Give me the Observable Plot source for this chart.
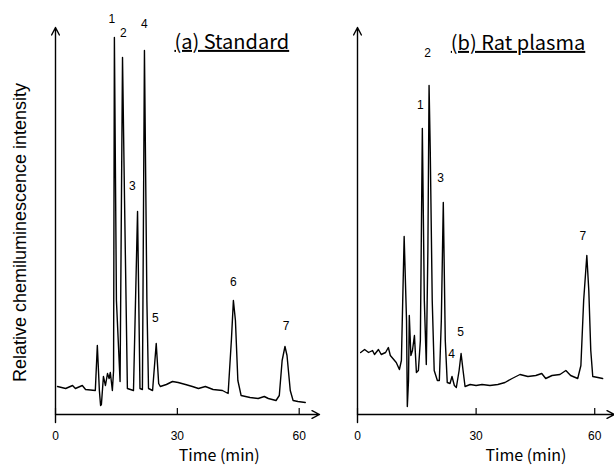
<!DOCTYPE html>
<html><head><meta charset="utf-8">
<script src="https://cdn.jsdelivr.net/npm/d3@7"></script>
<script src="https://cdn.jsdelivr.net/npm/@observablehq/plot@0.6"></script>
<style>
body{margin:0;background:#fff;}
#wrap{position:relative;width:614px;height:470px;overflow:hidden;background:#fff;}
#wrap svg{position:absolute;top:0;}
</style></head><body><div id="wrap"></div>
<script>
// Panel (a) Standard: retention time (min) and relative chemiluminescence signal
const timeA = [0.5,2.5,4.2,4.9,6.6,7.4,9.8,10.3,10.8,11.1,11.3,11.8,12.3,12.8,13.2,13.5,14.0,14.3,14.5,15.0,15.9,16.5,17.0,17.7,19.2,20.2,20.8,21.4,21.9,22.5,22.9,23.9,24.8,25.4,25.8,27.3,28.8,30.2,32.0,33.7,35.2,36.9,38.8,41.1,42.5,43.3,43.8,44.3,44.9,45.7,47.9,49.9,51.4,52.4,54.3,55.1,55.8,56.5,57.0,57.8,58.5,59.7,61.5];
const signalA = [28,26,29,26,29,25,24,69,24,9,10,38,29,41,36,42,24,44,377,114,33,357,214,26,24,203,26,25,364,114,26,24,71,31,28,30,33,32,30,28,26,28,25,24,21,74,114,94,34,19,17,16,18,16,14,19,54,68,59,24,14,13,12];
const peakNamesA = ["1","2","3","4","5","6","7"];
const peakTimeA = [13.9,16.7,18.9,21.9,24.6,43.8,56.8];
const peakLabelSignalA = [395,381,228,390,96,132,88];

// Panel (b) Rat plasma
const timeB = [0.8,1.8,2.8,3.8,4.3,5.3,6.0,7.1,7.8,8.3,9.8,10.6,11.1,11.8,12.4,12.6,12.9,13.1,13.5,13.9,14.4,14.9,15.4,15.9,16.4,16.9,17.4,17.8,18.1,18.4,18.9,19.4,20.2,20.7,21.2,21.7,22.2,22.7,23.4,23.9,24.5,25.0,25.7,26.2,26.7,27.2,28.5,30.0,31.5,33.5,35.5,37.3,39.1,41.1,43.1,45.1,46.6,47.6,49.2,51.2,52.7,53.9,55.7,56.5,57.2,58.0,58.5,59.0,59.5,60.8,62.0];
const signalB = [62,65,62,64,60,65,60,62,67,59,52,45,54,178,94,8,34,99,59,64,79,42,44,74,286,114,50,164,329,264,114,44,34,34,94,212,74,32,31,38,29,27,44,61,44,28,30,29,30,29,30,32,36,40,38,39,41,36,39,40,44,39,36,49,114,159,124,64,38,37,36];
const peakNamesB = ["1","2","3","4","5","7"];
const peakTimeB = [15.9,17.7,21.0,23.8,26.1,57.0];
const peakLabelSignalB = [309,361,236,60,82,178];

const xTicks = [0,30,60];
const titles = ["(a) Standard","(b) Rat plasma"];
const yTitle = "Relative chemiluminescence intensity";
const xTitle = "Time (min)";
const timeMax = 65, signalMax = 387;

function panel({time, signal, names, pTime, pSig, title, titleTime, titleSig, xTitleTime, width, marginLeft, marginRight, yLabel}) {
  const data = time.map((t,i)=>({t, v: signal[i]}));
  const peaks = names.map((n,i)=>({n, t: pTime[i], v: pSig[i]}));
  const axes = [{x1:0,y1:0,x2:timeMax,y2:0},{x1:0,y1:-8,x2:0,y2:signalMax}];
  const marks = [
    Plot.arrow(axes, {x1:"x1",y1:"y1",x2:"x2",y2:"y2",stroke:"black",strokeWidth:1.4,headLength:9,headAngle:55}),
    Plot.ruleX(xTicks, {x:d=>d, y1:0, y2:6, stroke:"black", strokeWidth:1.2}),
    Plot.axisX({ticks:xTicks, tickSize:0, tickPadding:17, label:null, fontSize:12, tickFormat:d=>String(d)}),
    Plot.line(data, {x:"t", y:"v", stroke:"black", strokeWidth:1.4, strokeLinejoin:"round"}),
    Plot.text(peaks, {x:"t", y:"v", text:"n", fontSize:12, fill:"black"}),
    Plot.text([title], {x:titleTime, y:titleSig, text:d=>d, fontSize:20, fontFamily:"Noto Sans CJK JP", fill:"black"}),
    Plot.text([xTitle], {x:xTitleTime, frameAnchor:"bottom", dy:46, text:d=>d, fontSize:16, fontFamily:"Noto Sans CJK JP", fill:"black"})
  ];
  if (yLabel) marks.push(Plot.text([yLabel], {frameAnchor:"left", y:182, dx:-35, rotate:-90, textAnchor:"middle", text:d=>d, fontSize:18, fill:"black"}));
  const svg = Plot.plot({
    width, height:470, marginLeft, marginRight, marginTop:27, marginBottom:56,
    x:{domain:[0,timeMax], axis:null},
    y:{domain:[0,signalMax], axis:null},
    style:{background:"transparent", overflow:"visible", fontFamily:"'Liberation Sans', Arial, sans-serif", fontSize:"12px", color:"black"},
    marks
  });
  d3.select(svg).selectAll("text").filter(function(){ return titles.includes(this.textContent); })
    .style("text-decoration","underline");
  return svg;
}

const wrap = document.getElementById("wrap");
const a = panel({time:timeA, signal:signalA, names:peakNamesA, pTime:peakTimeA, pSig:peakLabelSignalA, title:titles[0], titleTime:43.4, titleSig:372, xTitleTime:40.3, width:320, marginLeft:55, marginRight:1, yLabel:yTitle});
a.style.left = "0px";
const b = panel({time:timeB, signal:signalB, names:peakNamesB, pTime:peakTimeB, pSig:peakLabelSignalB, title:titles[1], titleTime:40.6, titleSig:371, xTitleTime:42.6, width:314, marginLeft:57, marginRight:0, yLabel:null});
b.style.left = "300px";
wrap.appendChild(a);
wrap.appendChild(b);
</script></body></html>
